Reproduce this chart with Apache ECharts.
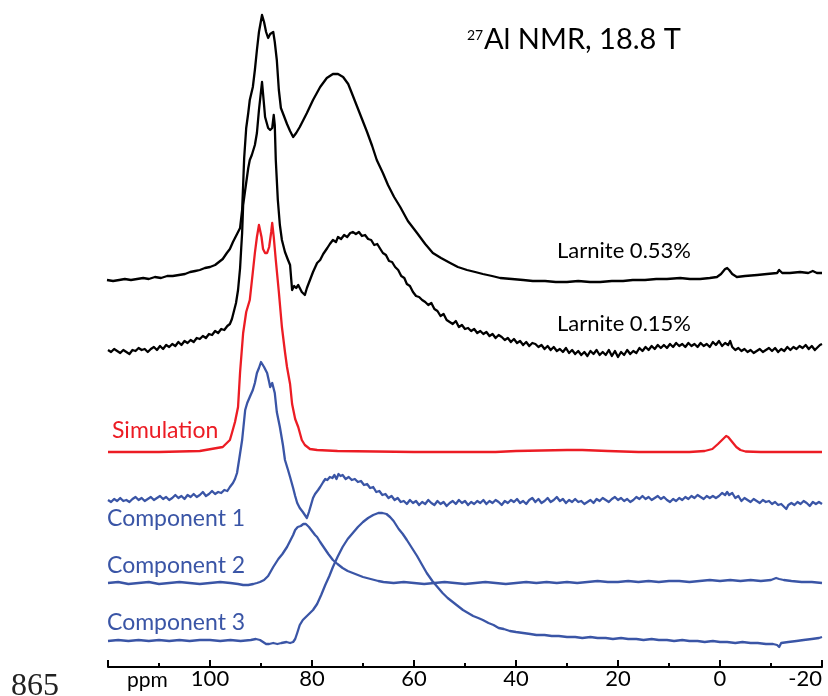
<!DOCTYPE html>
<html><head><meta charset="utf-8">
<script src="https://cdn.jsdelivr.net/npm/echarts@6/dist/echarts.min.js"></script>
<style>html,body{margin:0;padding:0;background:#fff}#c{width:828px;height:696px}</style>
</head><body><div id="c"></div>
<script>
// x axis (ppm), shown reversed from 120 to -20
const axisMin = -20, axisMax = 120, axisStep = 20;

// Each trace: [ppm, intensity above its own baseline]
const larnite053 = [[120.2,0],[119.0,-1],[117.8,0],[116.7,1],[115.5,0],[114.3,1],[113.1,2],[112.0,1],[110.8,3],[109.6,2],[108.4,4],[107.3,4],[106.1,5],[104.9,6],[103.9,8],[102.9,9],[102.0,10],[101.0,12],[100.0,13],[99.0,15],[98.0,19],[97.5,21],[96.7,27],[96.1,31],[95.5,38],[95.1,42],[94.7,46],[94.1,52],[93.7,70],[93.5,95],[93.3,122],[92.9,152],[92.5,167],[92.2,180],[91.6,193],[91.2,210],[90.8,230],[90.4,248],[89.8,265],[89.4,258],[89.0,248],[88.6,242],[88.2,246],[87.6,248],[87.3,238],[86.9,220],[86.5,190],[86.1,172],[85.5,164],[84.9,156],[84.3,149],[83.7,143],[83.1,147],[82.4,153],[81.0,167],[79.8,180],[78.4,193],[77.1,202],[75.9,206],[74.9,206],[73.9,203],[72.9,196],[72.2,187],[71.2,174],[70.2,161],[69.2,148],[68.2,134],[67.3,120],[66.1,107],[65.1,95],[63.9,83],[62.7,73],[61.2,59],[59.4,47],[57.8,36],[56.3,27],[54.7,22],[52.9,17],[51.4,13],[49.6,10],[48.0,8],[46.5,6],[44.7,4],[43.1,2],[40.8,1],[38.6,0],[36.7,-1],[34.3,-1],[32.2,-2],[30.0,-2],[27.8,-1],[25.5,-2],[23.5,-2],[21.2,-1],[19.0,-1],[17.1,0],[14.7,0],[12.5,1],[10.4,1],[7.8,2],[5.9,1],[3.9,1],[2.0,2],[0.6,3],[-0.2,6],[-1.0,11],[-1.4,12],[-1.8,10],[-2.4,6],[-3.3,3],[-4.9,4],[-7.3,5],[-9.2,6],[-11.2,7],[-11.6,10],[-12.2,7],[-13.7,7],[-15.7,8],[-17.3,7],[-18.2,9],[-19.0,7],[-20.0,7]];

const larnite015 = [[120.0,0],[119.4,-2],[118.8,1],[118.2,-1],[117.6,-3],[117.0,0],[116.4,-2],[115.8,-4],[115.2,0],[114.6,-1],[114.0,2],[113.4,0],[112.8,1],[112.2,-2],[111.6,1],[111.0,3],[110.4,0],[109.8,4],[109.2,1],[108.6,5],[108.0,3],[107.4,6],[106.8,4],[106.2,8],[105.6,5],[105.0,9],[104.4,7],[103.8,10],[103.2,8],[102.6,12],[102.0,11],[101.4,14],[100.8,12],[100.2,16],[99.6,15],[99.0,19],[98.4,17],[97.8,21],[97.2,20],[96.6,24],[96.1,26],[95.7,31],[95.3,39],[94.9,47],[94.5,60],[94.1,82],[93.9,100],[93.7,117],[93.5,145],[93.1,160],[92.5,182],[92.2,190],[91.8,195],[91.2,205],[90.8,217],[90.4,240],[89.8,268],[89.4,245],[89.2,233],[88.6,222],[88.2,220],[87.8,222],[87.5,235],[87.3,225],[87.1,190],[86.7,150],[86.3,125],[85.9,110],[85.3,98],[84.7,90],[84.3,85],[83.9,60],[83.5,64],[83.1,62],[82.7,65],[82.4,62],[82.0,58],[81.4,55],[81.0,62],[80.4,70],[79.8,78],[79.0,87],[78.4,90],[77.8,96],[77.0,102],[76.5,106],[75.9,110],[75.3,108],[74.9,113],[74.3,111],[73.7,115],[73.1,113],[72.5,117],[72.0,118],[71.4,116],[70.8,118],[70.2,114],[69.6,115],[69.0,111],[68.4,110],[67.8,105],[67.2,106],[66.6,101],[66.1,97],[65.5,95],[64.9,89],[64.3,88],[63.7,83],[63.1,80],[62.5,74],[61.9,72],[61.4,66],[60.8,64],[60.2,58],[59.6,54],[59.0,53],[58.4,50],[57.8,48],[57.2,45],[56.6,47],[56.0,41],[55.4,39],[54.8,34],[54.2,36],[53.6,30],[53.0,28],[52.4,26],[51.8,29],[51.2,23],[50.6,25],[50.0,21],[49.4,22],[48.8,19],[48.2,21],[47.6,17],[47.0,19],[46.4,16],[45.8,18],[45.2,14],[44.6,16],[44.0,12],[43.4,15],[42.8,13],[42.2,10],[41.6,12],[41.0,8],[40.4,11],[39.8,7],[39.2,9],[38.6,5],[38.0,8],[37.4,4],[36.8,7],[36.2,6],[35.6,3],[35.0,5],[34.4,1],[33.8,4],[33.2,0],[32.6,3],[32.0,-1],[31.4,1],[30.8,-2],[30.2,2],[29.6,-3],[29.0,0],[28.4,-4],[27.8,-1],[27.2,-5],[26.6,-2],[26.0,-6],[25.4,-1],[24.8,-4],[24.2,0],[23.6,-5],[23.0,-2],[22.4,-5],[21.8,0],[21.2,-6],[20.6,-1],[20.0,-7],[19.4,-2],[18.8,-5],[18.2,0],[17.6,-4],[17.0,-1],[16.4,-3],[15.8,2],[15.2,-1],[14.6,3],[14.0,0],[13.4,4],[12.8,1],[12.2,5],[11.6,2],[11.0,5],[10.4,2],[9.8,6],[9.2,3],[8.6,7],[8.0,4],[7.4,6],[6.8,3],[6.2,7],[5.6,4],[5.0,6],[4.4,3],[3.8,7],[3.2,4],[2.6,6],[2.0,3],[1.4,8],[0.8,5],[0.2,9],[-0.4,4],[-1.0,7],[-1.6,5],[-2.0,9],[-2.4,3],[-3.0,0],[-3.6,2],[-4.2,-1],[-4.8,1],[-5.4,-2],[-6.0,0],[-6.6,-3],[-7.2,-1],[-7.8,1],[-8.4,-2],[-9.0,0],[-9.6,2],[-10.2,-1],[-10.8,2],[-11.4,-2],[-12.0,1],[-12.6,-1],[-13.2,3],[-13.8,0],[-14.4,3],[-15.0,1],[-15.6,4],[-16.2,2],[-16.8,5],[-17.4,1],[-18.0,4],[-18.6,0],[-19.2,3],[-19.6,5],[-20.0,6]];

const simulation = [[120,0],[110,0],[102,1],[97.5,5],[96.1,12],[95.7,19],[95.1,30],[94.5,45],[94.1,80],[93.5,119],[92.9,140],[92.2,152],[91.6,180],[91.2,199],[90.8,215],[90.4,227],[90.2,229],[89.9,215],[89.6,203],[89.2,199],[88.8,199],[88.4,205],[88.0,220],[87.8,229],[87.5,215],[87.1,192],[86.5,160],[85.9,125],[85.3,100],[84.9,85],[84.3,68],[83.9,48],[83.3,33],[82.7,25],[82.0,12],[81.4,7],[80.4,3],[79.0,2],[75,1],[60,0],[44,0],[40,1],[30,2],[27,2],[22,1],[16,0],[6,0],[3,1],[1.5,3],[0.4,8],[-0.6,13],[-1.2,16],[-1.6,15],[-2.4,10],[-3.2,5],[-4.0,2],[-5,0.5],[-8,0],[-20,0]];

const component1 = [[120.0,0],[119.4,-2],[118.8,1],[118.2,-1],[117.6,2],[117.0,-1],[116.4,0],[115.8,-2],[115.2,1],[114.6,3],[114.0,0],[113.4,2],[112.8,-1],[112.2,1],[111.6,3],[111.0,0],[110.4,2],[109.8,4],[109.2,1],[108.6,3],[108.0,0],[107.4,2],[106.8,5],[106.2,2],[105.6,4],[105.0,1],[104.4,5],[103.8,3],[103.2,6],[102.6,3],[102.0,5],[101.4,8],[100.8,4],[100.2,6],[99.6,9],[99.0,6],[98.4,8],[97.8,7],[97.2,10],[96.6,9],[96.1,13],[95.5,17],[95.1,21],[94.7,27],[94.3,40],[93.7,60],[93.3,80],[93.1,90],[92.7,97],[92.2,103],[91.6,110],[91.2,117],[90.8,127],[90.4,132],[90.0,138],[89.8,140],[89.4,133],[88.8,127],[88.4,118],[88.2,113],[87.8,117],[87.6,115],[87.3,107],[86.9,88],[86.3,73],[85.7,55],[85.3,40],[84.7,30],[84.3,23],[83.7,12],[83.3,4],[82.9,-3],[82.4,-8],[81.8,-12],[81.4,-15],[81.0,-18],[80.6,-12],[80.2,-5],[79.8,2],[79.4,6],[78.8,10],[78.4,13],[77.8,18],[77.4,21],[77.0,20],[76.5,23],[76.0,22],[75.6,25],[75.2,21],[74.8,26],[74.4,24],[74.0,25],[73.4,21],[72.8,23],[72.2,20],[71.6,21],[71.0,18],[70.4,19],[69.8,15],[69.2,16],[68.6,12],[68.0,13],[67.4,8],[66.8,9],[66.2,5],[65.6,6],[65.0,2],[64.4,4],[63.8,0],[63.2,2],[62.6,-2],[62.0,-1],[61.4,-4],[60.8,0],[60.2,-3],[59.6,-1],[59.0,-5],[58.4,-2],[57.8,-4],[57.2,0],[56.6,-3],[56.0,-5],[55.4,-1],[54.8,-4],[54.2,-2],[53.6,-6],[53.0,-3],[52.4,-1],[51.8,-4],[51.2,0],[50.6,-3],[50.0,-1],[49.4,-5],[48.8,-2],[48.2,-4],[47.6,-1],[47.0,-3],[46.4,0],[45.8,-4],[45.2,-1],[44.6,-3],[44.0,0],[43.4,-2],[42.8,-5],[42.2,-1],[41.6,-3],[41.0,0],[40.4,-2],[39.8,1],[39.2,-3],[38.6,-1],[38.0,-4],[37.4,0],[36.8,2],[36.2,-2],[35.6,1],[35.0,-3],[34.4,-1],[33.8,2],[33.2,-2],[32.6,0],[32.0,3],[31.4,-1],[30.8,1],[30.2,-3],[29.6,0],[29.0,-2],[28.4,1],[27.8,-2],[27.2,-1],[26.6,-4],[26.0,-2],[25.4,0],[24.8,-3],[24.2,1],[23.6,-1],[23.0,2],[22.4,0],[21.8,-2],[21.2,1],[20.6,3],[20.0,0],[19.4,2],[18.8,-1],[18.2,1],[17.6,-2],[17.0,0],[16.4,3],[15.8,1],[15.2,4],[14.6,1],[14.0,3],[13.4,0],[12.8,2],[12.2,4],[11.6,1],[11.0,3],[10.4,0],[9.8,-2],[9.2,1],[8.6,-1],[8.0,2],[7.4,0],[6.8,3],[6.2,1],[5.6,4],[5.0,2],[4.4,5],[3.8,3],[3.2,1],[2.6,4],[2.0,2],[1.4,4],[0.8,2],[0.2,4],[-0.4,7],[-1.0,5],[-1.4,8],[-1.8,5],[-2.4,7],[-3.0,2],[-3.6,4],[-4.2,-1],[-4.8,2],[-5.4,0],[-6.0,-2],[-6.6,1],[-7.2,-1],[-7.8,-3],[-8.4,0],[-9.0,-2],[-9.6,-1],[-10.2,-4],[-10.8,-2],[-11.4,-5],[-12.0,-4],[-12.6,-7],[-13.0,-9],[-13.4,-5],[-14.0,-3],[-14.6,-5],[-15.2,-2],[-15.8,-4],[-16.4,-1],[-17.0,-3],[-17.6,-6],[-18.2,-2],[-18.8,-4],[-19.4,-2],[-20.0,-4]];

const component2 = [[120,0],[118,1],[116,-1],[114,0],[112,1],[110,-1],[108,0],[106,1],[104,0],[102,-1],[100,0],[98,1],[96,0],[94.5,-1],[93.5,-2],[92.5,-2],[91.5,-1],[90.8,0],[90.2,1],[89.4,3],[88.6,7],[87.6,16],[86.6,24],[85.8,29],[84.9,36],[84.3,42],[83.7,48],[83.3,53],[82.8,56],[82.2,57],[81.7,59],[81.2,59],[80.6,56],[80.0,52],[79.4,48],[79.0,46],[78.4,41],[77.6,35],[76.8,29],[75.9,23],[75.0,19],[74.0,15],[73.0,12],[72.0,10],[71.0,8],[70.0,6],[68.5,4],[67,2],[66,1],[64,0],[62,1],[60,0],[58,-1],[56,0],[54,1],[52,0],[50,-1],[48,0],[46,1],[44,0],[42,-1],[40,0],[38,1],[36,0],[34,1],[32,0],[30,1],[28,0],[26,1],[24,2],[22,1],[20,1],[18,2],[16,1],[14,2],[12,1],[10,2],[8,2],[6,1],[4,2],[2,3],[0,2],[-2,3],[-4,2],[-6,3],[-8,2],[-10,3],[-11,5],[-11.6,4],[-12.5,3],[-14,2],[-16,1],[-18,1],[-20,0]];

const component3 = [[120,0],[118,1],[116,0],[114,1],[112,0],[110,1],[108,0],[106,1],[104,0],[102,1],[100,1],[98,0],[96,1],[94,0],[92,1],[91,2],[90.2,1],[89.6,-1],[89,-3],[88.4,-3],[87.6,-2],[86.8,-3],[86,-2],[85,-1],[84.3,-2],[83.7,-1],[83.3,2],[82.9,8],[82.4,16],[81.8,21],[81.0,25],[80.2,29],[79.8,31],[79.0,37],[78.2,46],[77.4,56],[76.6,65],[75.9,74],[75.0,84],[74.0,94],[73.0,102],[72.0,108],[71.0,114],[70.0,119],[69.0,123],[68.0,126],[67.0,128],[66.2,128],[65.4,127],[64.7,124],[64.0,120],[63.0,112],[62.2,107],[61.4,101],[60.4,93],[59.4,85],[58.4,76],[57.5,68],[56.4,60],[55.4,54],[54.4,48],[53.4,43],[52.4,39],[51.4,35],[50.4,31],[49.4,28],[48.4,25],[47.4,23],[46.5,21],[45.4,18],[44.4,16],[43.4,13],[42.4,12],[41.2,10],[40,9],[38.6,8],[37.2,7],[36,6],[34.4,6],[33,5],[31.6,5],[30,4],[28.4,4],[27,3],[25.4,4],[24,3],[22.4,3],[21,2],[19.4,3],[18,2],[16.4,2],[15,1],[13.4,2],[12,1],[10.4,1],[9,0],[7.4,1],[6,0],[4.4,0],[3,-1],[1.4,0],[0,-1],[-1.4,-1],[-3,-2],[-4.4,-1],[-6,-2],[-7.4,-2],[-9,-3],[-10.4,-3],[-11.2,-4],[-11.6,-6],[-12,-2],[-13.4,-1],[-15,0],[-16.4,1],[-18,2],[-19.4,3],[-20,4]];

// vertical stacking offsets of each trace (same units as intensity)
const traceNames = ['Larnite 0.53%','Larnite 0.15%','Simulation','Component 1','Component 2','Component 3'];
const traceData = [larnite053, larnite015, simulation, component1, component2, component3];
const traceOffsets = [387, 317, 215, 167, 84, 26];
const traceColors = ['#000000','#000000','#ec1c24','#3a55a6','#3a55a6','#3a55a6'];

const FONT = 'Lato, "Open Sans", sans-serif';

const chart = echarts.init(document.getElementById('c'), null, {renderer:'canvas'});

const series = traceData.map((d, i) => ({
  name: traceNames[i],
  type: 'line',
  data: d.map(p => [p[0], p[1] + traceOffsets[i]]),
  symbol: 'none',
  smooth: false,
  clip: false,
  lineStyle: {color: traceColors[i], width: 2.3, join: 'round'},
  z: 2
}));

function label(text, x, y, size, color){
  return {type:'text', x:x, y:y, style:{text:text, font: size+'px '+FONT, fill:color, textVerticalAlign:'middle', textAlign:'left'}, z:10};
}

chart.setOption({
  animation: false,
  backgroundColor: '#ffffff',
  grid: {left:108, right:6, top:0, bottom:29, containLabel:false, outerBoundsMode:'none'},
  xAxis: {
    type:'value', inverse:true, min:axisMin, max:axisMax, interval:axisStep,
    axisLine:{show:true, lineStyle:{color:'#000', width:2}},
    axisTick:{show:true, inside:true, length:7, lineStyle:{color:'#000', width:2}},
    minorTick:{show:true, splitNumber:2, length:4, lineStyle:{color:'#000', width:2}},
    splitLine:{show:false},
    axisLabel:{show:true, margin:1, color:'#000', fontFamily:FONT, fontSize:22, hideOverlap:false,
      alignMinLabel:'right',
      formatter: v => (v === axisMax ? '' : String(v))}
  },
  yAxis: {type:'value', min:0, max:667, show:false},
  series: series,
  graphic: [
    label('Larnite 0.53%', 557, 251, 22, '#000'),
    label('Larnite 0.15%', 557, 324, 22, '#000'),
    label('Simulation', 112, 431, 23, '#ec1c24'),
    label('Component 1', 107, 519, 23, '#3a55a6'),
    label('Component 2', 107, 566, 23, '#3a55a6'),
    label('Component 3', 107, 623, 23, '#3a55a6'),
    label('27', 467, 35, 14, '#000'),
    label('Al NMR, 18.8 T', 484, 40, 29, '#000'),
    label('ppm', 127, 680, 21, '#000'),
    {type:'text', x:11, y:687, style:{text:'865', font:'32px "Liberation Serif", serif', fill:'#222', textVerticalAlign:'middle'}, z:10}
  ]
});
</script></body></html>
